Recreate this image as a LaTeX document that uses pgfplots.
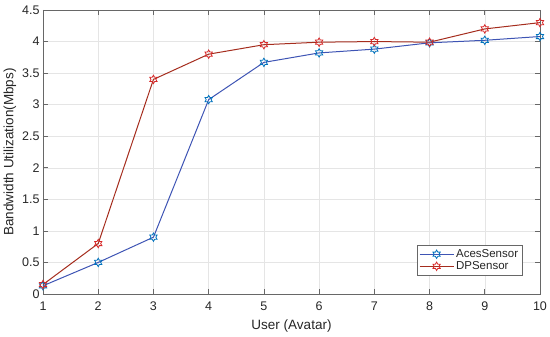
\documentclass[border=0pt]{standalone}
\usepackage{pgfplots}
\pgfplotsset{compat=1.18}
\usepackage{fontspec}
\setmainfont{Liberation Sans}
\definecolor{bl}{RGB}{62,84,180}
\definecolor{blm}{RGB}{0,114,189}
\definecolor{rd}{RGB}{165,45,30}
\definecolor{rdm}{RGB}{215,40,40}
\definecolor{txt}{RGB}{38,38,38}
\pgfdeclareplotmark{hexagram}{%
  \pgfpathmoveto{\pgfqpointpolar{90}{\pgfplotmarksize}}%
  \pgfpathlineto{\pgfqpointpolar{120}{0.577\pgfplotmarksize}}%
  \pgfpathlineto{\pgfqpointpolar{150}{\pgfplotmarksize}}%
  \pgfpathlineto{\pgfqpointpolar{180}{0.577\pgfplotmarksize}}%
  \pgfpathlineto{\pgfqpointpolar{210}{\pgfplotmarksize}}%
  \pgfpathlineto{\pgfqpointpolar{240}{0.577\pgfplotmarksize}}%
  \pgfpathlineto{\pgfqpointpolar{270}{\pgfplotmarksize}}%
  \pgfpathlineto{\pgfqpointpolar{300}{0.577\pgfplotmarksize}}%
  \pgfpathlineto{\pgfqpointpolar{330}{\pgfplotmarksize}}%
  \pgfpathlineto{\pgfqpointpolar{0}{0.577\pgfplotmarksize}}%
  \pgfpathlineto{\pgfqpointpolar{30}{\pgfplotmarksize}}%
  \pgfpathlineto{\pgfqpointpolar{60}{0.577\pgfplotmarksize}}%
  \pgfpathclose
  \pgfusepathqstroke}
\begin{document}
\begin{tikzpicture}
\path[use as bounding box] (-43pt,-43pt) rectangle (507pt,294pt);
\begin{axis}[
  at={(0,0)}, anchor=south west,
  scale only axis, width=497pt, height=284pt,
  xmin=1, xmax=10, ymin=0, ymax=4.5,
  xtick={1,...,10},
  ytick={0,0.5,...,4.5},
  yticklabels={0,0.5,1,1.5,2,2.5,3,3.5,4,4.5},
  grid=major,
  grid style={gray!20, line width=0.5pt},
  tick align=inside,
  major tick length=5pt,
  axis line style={txt!70, line width=0.6pt},
  tick style={txt!70, line width=0.6pt},
  ticklabel style={font=\fontsize{12.5}{14}\selectfont, text=txt},
  xticklabel style={yshift=-4pt},
  /pgf/number format/assume math mode=true,
  xlabel={User (Avatar)},
  ylabel={Bandwidth Utilization(Mbps)},
  label style={font=\fontsize{13.5}{15}\selectfont, text=txt},
  xlabel style={yshift=-2pt},
  ylabel style={yshift=-1pt},
  legend style={at={(0.965,0.065)}, anchor=south east, font=\fontsize{11.5}{13}\selectfont, draw=txt!70, line width=0.6pt, inner sep=2.2pt, row sep=-1.5pt, text=txt},
  legend cell align=left,
  legend image code/.code={\draw[mark repeat=2,mark phase=2] plot coordinates {(0pt,0pt)(17pt,0pt)(34pt,0pt)};},
]
\addplot[bl, line width=1pt, mark=hexagram, mark size=4.2pt, mark options={blm, line width=0.8pt}]
coordinates {(1,0.13)(2,0.5)(3,0.9)(4,3.08)(5,3.67)(6,3.82)(7,3.88)(8,3.98)(9,4.02)(10,4.08)};
\addlegendentry{AcesSensor}
\addplot[rd, line width=1pt, mark=hexagram, mark size=4.2pt, mark options={rdm, line width=0.8pt}]
coordinates {(1,0.15)(2,0.8)(3,3.4)(4,3.8)(5,3.95)(6,3.99)(7,4.0)(8,3.99)(9,4.2)(10,4.3)};
\addlegendentry{DPSensor}
\end{axis}
\end{tikzpicture}
\end{document}
